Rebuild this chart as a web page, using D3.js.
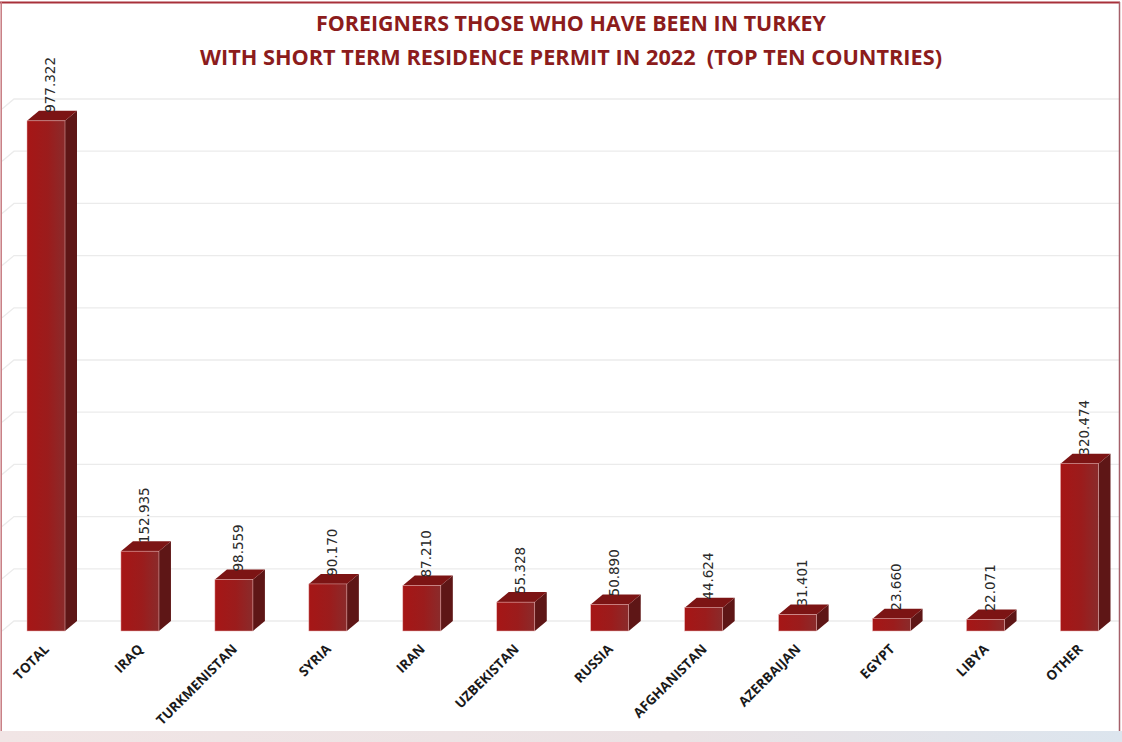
<!DOCTYPE html>
<html>
<head>
<meta charset="utf-8">
<script src="https://cdn.jsdelivr.net/npm/d3@7/dist/d3.min.js"></script>
<style>
  html, body { margin: 0; padding: 0; background: #ffffff; }
  svg { display: block; }
</style>
</head>
<body>
<svg id="chart" width="1122" height="742"></svg>
<script>
// ---- data ----
const categories = ["TOTAL", "IRAQ", "TURKMENISTAN", "SYRIA", "IRAN", "UZBEKISTAN", "RUSSIA",
  "AFGHANISTAN", "AZERBAIJAN", "EGYPT", "LIBYA", "OTHER"];
const values = [977322, 152935, 98559, 90170, 87210, 55328, 50890, 44624, 31401, 23660, 22071, 320474];
const valueLabels = ["977.322", "152.935", "98.559", "90.170", "87.210", "55.328", "50.890",
  "44.624", "31.401", "23.660", "22.071", "320.474"];
const gridTicks = [0, 100000, 200000, 300000, 400000, 500000, 600000, 700000, 800000, 900000, 1000000];
const titleLines = ["FOREIGNERS THOSE WHO HAVE BEEN IN TURKEY",
  "WITH SHORT TERM RESIDENCE PERMIT IN 2022  (TOP TEN COUNTRIES)"];

// ---- layout ----
const W = 1122, H = 742;
const svg = d3.select("#chart");
const depthX = 12, depthY = 10;   // 3D depth offset (back face is up-right of front)
const barW = 38;

const x = d3.scalePoint().domain(categories).range([46, 1079.5]);   // front-face centers
const y = d3.scaleLinear().domain([0, 1000000]).range([621, 99]);   // back-wall coordinates

const defs = svg.append("defs");
const gFront = defs.append("linearGradient").attr("id", "front").attr("x1", "0").attr("x2", "1").attr("y1", "0").attr("y2", "0");
gFront.append("stop").attr("offset", "0%").attr("stop-color", "#a61616");
gFront.append("stop").attr("offset", "55%").attr("stop-color", "#9b1c1c");
gFront.append("stop").attr("offset", "100%").attr("stop-color", "#8a2b2b");
const gBot = defs.append("linearGradient").attr("id", "strip").attr("x1", "0").attr("x2", "1");
gBot.append("stop").attr("offset", "0%").attr("stop-color", "#f1e5e5");
gBot.append("stop").attr("offset", "60%").attr("stop-color", "#ebe2e4");
gBot.append("stop").attr("offset", "100%").attr("stop-color", "#dce5ee");

// background
svg.append("rect").attr("x", 0).attr("y", 0).attr("width", W).attr("height", H).attr("fill", "#ffffff");

// gridlines on back wall + left side wall
const grid = svg.append("g").attr("class", "grid");
grid.selectAll("path").data(gridTicks).join("path")
  .attr("d", t => `M2,${y(t) + depthY} L${2 + depthX},${y(t)} L1119,${y(t)}`)
  .attr("fill", "none")
  .attr("stroke", "#ebebeb")
  .attr("stroke-width", 1.3);

// bars
const bars = svg.append("g").attr("class", "bars");
const bar = bars.selectAll("g").data(categories).join("g");
const fx0 = c => x(c) - barW / 2;
const fx1 = c => x(c) + barW / 2;
const topF = (i) => y(values[i]) + depthY;     // front top
const botF = y(0) + depthY;                     // front bottom

// side face
bar.append("path")
  .attr("d", (c, i) => `M${fx1(c)},${topF(i)} L${fx1(c) + depthX},${topF(i) - depthY} L${fx1(c) + depthX},${botF - depthY} L${fx1(c)},${botF} Z`)
  .attr("fill", "#5e1616");
// top face
bar.append("path")
  .attr("d", (c, i) => `M${fx0(c)},${topF(i)} L${fx0(c) + depthX},${topF(i) - depthY} L${fx1(c) + depthX},${topF(i) - depthY} L${fx1(c)},${topF(i)} Z`)
  .attr("fill", "#7c1414");
// front face
bar.append("rect")
  .attr("x", c => fx0(c))
  .attr("y", (c, i) => topF(i))
  .attr("width", barW)
  .attr("height", (c, i) => botF - topF(i))
  .attr("fill", "url(#front)")
  .attr("stroke", "#e8b0b0")
  .attr("stroke-width", 0.5);

// value labels
svg.append("g").selectAll("text").data(categories).join("text")
  .attr("transform", (c, i) => `translate(${x(c) + 9},${y(values[i]) + 2}) rotate(-90)`)
  .attr("text-anchor", "start")
  .attr("font-family", "DejaVu Sans, sans-serif")
  .attr("font-size", "13.5px")
  .attr("fill", "#2a2a2a")
  .text((c, i) => valueLabels[i]);

// category labels
svg.append("g").selectAll("text").data(categories).join("text")
  .attr("transform", c => `translate(${x(c) + 4},${650}) rotate(-45)`)
  .attr("text-anchor", "end")
  .attr("font-family", "Open Sans, sans-serif")
  .attr("font-weight", "bold")
  .attr("font-size", "13.5px")
  .attr("fill", "#1a1a1a")
  .text(c => c);

// title
const titleWidths = [510, 742];
const titleBase = [31, 65];
svg.append("g").selectAll("text").data(titleLines).join("text")
  .attr("x", 571)
  .attr("y", (d, i) => titleBase[i])
  .attr("text-anchor", "middle")
  .attr("font-family", "Open Sans, sans-serif")
  .attr("font-weight", "bold")
  .attr("font-size", "22px")
  .attr("fill", "#8c1c1c")
  .attr("textLength", (d, i) => titleWidths[i])
  .attr("lengthAdjust", "spacingAndGlyphs")
  .style("white-space", "pre")
  .text(d => d);

// frame
svg.append("line").attr("x1", 0).attr("x2", 1120).attr("y1", 2.5).attr("y2", 2.5)
  .attr("stroke", "#a8303a").attr("stroke-width", 2.2);
svg.append("line").attr("x1", 1.2).attr("x2", 1.2).attr("y1", 2).attr("y2", 731)
  .attr("stroke", "#c77a80").attr("stroke-width", 1.5);
svg.append("line").attr("x1", 1119.5).attr("x2", 1119.5).attr("y1", 2).attr("y2", 731)
  .attr("stroke", "#a5606a").attr("stroke-width", 1.5);
// bottom strip
svg.append("rect").attr("x", 0).attr("y", 731).attr("width", W).attr("height", 11).attr("fill", "url(#strip)");
</script>
</body>
</html>
